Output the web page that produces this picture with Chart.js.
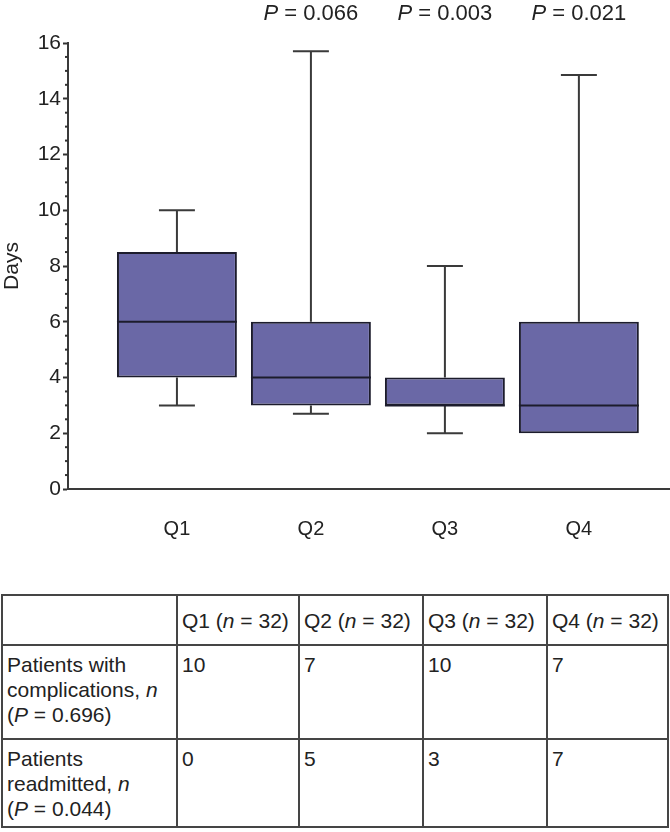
<!DOCTYPE html>
<html>
<head>
<meta charset="utf-8">
<script src="https://cdn.jsdelivr.net/npm/chart.js@4/dist/chart.umd.min.js"></script>
<style>
    body { margin: 0; background: #fff; }
    #wrap { position: relative; width: 670px; height: 832px; }
    #chart { position: absolute; left: 0; top: 0; }
    #stats {
        position: absolute; left: 1px; top: 594px;
        border-collapse: collapse; table-layout: fixed;
        font-family: 'Liberation Sans', Arial, sans-serif; font-size: 21px; color: #222;
    }
    #stats td {
        border: 2px solid #454545; padding: 6px 2px 0 4px;
        vertical-align: top; line-height: 25px; white-space: nowrap;
    }
    #stats tr.head td { vertical-align: middle; padding-top: 0; }
</style>
</head>
<body>
<div id="wrap">
    <canvas id="chart" width="670" height="560"></canvas>
    <table id="stats">
        <colgroup>
            <col style="width:175px"><col style="width:122px"><col style="width:124px"><col style="width:124px"><col style="width:121px">
        </colgroup>
        <tbody></tbody>
    </table>
</div>
<script>
// quartile groups
const groups = ['Q1', 'Q2', 'Q3', 'Q4'];
const whiskerLow = [3, 2.7, 2, 2];
const boxLow = [4, 3, 3, 2];
const medians = [6, 4, 3, 3];
const boxHigh = [8.5, 6, 4, 6];
const whiskerHigh = [10, 15.7, 8, 14.85];
const pValues = [null, '0.066', '0.003', '0.021'];
const yTicks = [0, 2, 4, 6, 8, 10, 12, 14, 16];

// table below the chart
const groupN = [32, 32, 32, 32];
const complications = [10, 7, 10, 7];
const readmitted = [0, 5, 3, 7];
const complicationsP = '0.696';
const readmittedP = '0.044';

const FONT = "'Liberation Sans', Arial, sans-serif";

// whiskers, medians and P values on top of the floating bars
const boxPlot = {
    id: 'boxPlot',
    beforeDatasetsDraw(chart) {
        const ctx = chart.ctx;
        const y = chart.scales.y;
        const meta = chart.getDatasetMeta(0);
        ctx.save();
        ctx.strokeStyle = '#3a3a3a';
        ctx.lineWidth = 2;
        meta.data.forEach((bar, i) => {
            const { x, width } = bar.getProps(['x', 'width'], true);
            const cap = width * 0.3;
            ctx.beginPath();
            ctx.moveTo(x, y.getPixelForValue(boxHigh[i]));
            ctx.lineTo(x, y.getPixelForValue(whiskerHigh[i]));
            ctx.moveTo(x - cap / 2, y.getPixelForValue(whiskerHigh[i]));
            ctx.lineTo(x + cap / 2, y.getPixelForValue(whiskerHigh[i]));
            if (whiskerLow[i] < boxLow[i]) {
                ctx.moveTo(x, y.getPixelForValue(boxLow[i]));
                ctx.lineTo(x, y.getPixelForValue(whiskerLow[i]));
                ctx.moveTo(x - cap / 2, y.getPixelForValue(whiskerLow[i]));
                ctx.lineTo(x + cap / 2, y.getPixelForValue(whiskerLow[i]));
            }
            ctx.stroke();
        });
        // minor ticks on the y axis
        ctx.strokeStyle = '#333';
        for (let v = 0.5; v < y.max; v += 0.5) {
            if (v % 2 === 0) continue;
            const py = y.getPixelForValue(v);
            ctx.beginPath();
            ctx.moveTo(y.right - 3, py);
            ctx.lineTo(y.right, py);
            ctx.stroke();
        }
        ctx.restore();
    },
    afterDatasetsDraw(chart) {
        const ctx = chart.ctx;
        const y = chart.scales.y;
        const meta = chart.getDatasetMeta(0);
        ctx.save();
        ctx.strokeStyle = '#1c1c2c';
        ctx.lineWidth = 2;
        meta.data.forEach((bar, i) => {
            const { x, width } = bar.getProps(['x', 'width'], true);
            const py = y.getPixelForValue(medians[i]);
            ctx.beginPath();
            ctx.moveTo(x - width / 2, py);
            ctx.lineTo(x + width / 2, py);
            ctx.stroke();

            if (!pValues[i]) return;
            ctx.fillStyle = '#222';
            ctx.textBaseline = 'middle';
            ctx.font = 'italic 22px ' + FONT;
            const pW = ctx.measureText('P').width;
            ctx.font = '22px ' + FONT;
            const rest = ' = ' + pValues[i];
            const rW = ctx.measureText(rest).width;
            const left = x - (pW + rW) / 2;
            ctx.font = 'italic 22px ' + FONT;
            ctx.textAlign = 'left';
            ctx.fillText('P', left, 14);
            ctx.font = '22px ' + FONT;
            ctx.fillText(rest, left + pW, 14);
        });
        ctx.restore();
    }
};

new Chart(document.getElementById('chart'), {
    type: 'bar',
    data: {
        datasets: [{
            data: groups.map((g, i) => ({ x: i + 1, y: [boxLow[i], boxHigh[i]] })),
            backgroundColor: '#6a68a6',
            borderColor: '#1c1c2c',
            borderWidth: 2,
            borderSkipped: false,
            categoryPercentage: 1,
            barPercentage: 0.895
        }]
    },
    options: {
        responsive: false,
        devicePixelRatio: 1,
        animation: false,
        layout: { padding: { top: 43, left: 0, right: 0, bottom: 0 } },
        plugins: { legend: { display: false }, tooltip: { enabled: false } },
        scales: {
            x: {
                type: 'linear',
                offset: false,
                min: 0.187,
                max: 4.68,
                afterBuildTicks: (scale) => { scale.ticks = groups.map((g, i) => ({ value: i + 1 })); },
                afterFit: (scale) => { scale.height = 71; },
                grid: { display: false },
                border: { display: true, color: '#3a3a3a', width: 2 },
                ticks: {
                    padding: 20,
                    color: '#222',
                    font: { family: FONT, size: 20 },
                    callback: (v) => groups[v - 1]
                }
            },
            y: {
                min: 0,
                max: 16,
                afterBuildTicks: (scale) => { scale.ticks = yTicks.map(v => ({ value: v })); },
                afterFit: (scale) => { scale.width = 68; },
                grid: { display: true, drawOnChartArea: false, drawTicks: true, tickLength: 5, tickColor: '#333', tickWidth: 2 },
                border: { display: true, color: '#3a3a3a', width: 2 },
                title: {
                    display: true,
                    text: 'Days',
                    color: '#222',
                    padding: { top: 0, bottom: 0 },
                    font: { family: FONT, size: 21 }
                },
                ticks: {
                    padding: 2,
                    color: '#222',
                    font: { family: FONT, size: 21 }
                }
            }
        }
    },
    plugins: [boxPlot]
});

// build the table from the arrays
const tbody = document.querySelector('#stats tbody');
const heads = groups.map((g, i) => `<td>${g} (<i>n</i> = ${groupN[i]})</td>`).join('');
tbody.innerHTML =
    `<tr class="head" style="height:50px"><td></td>${heads}</tr>` +
    `<tr style="height:94px"><td>Patients with<br>complications, <i>n</i><br>(<i>P</i> = ${complicationsP})</td>` +
        complications.map(v => `<td>${v}</td>`).join('') + '</tr>' +
    `<tr style="height:88px"><td>Patients<br>readmitted, <i>n</i><br>(<i>P</i> = ${readmittedP})</td>` +
        readmitted.map(v => `<td>${v}</td>`).join('') + '</tr>';
</script>
</body>
</html>
